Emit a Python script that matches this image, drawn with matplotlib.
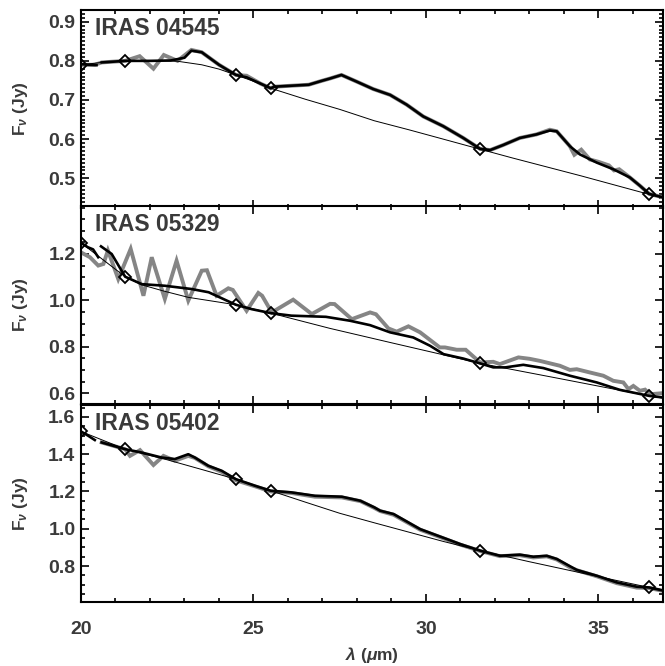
import matplotlib
matplotlib.use('Agg')
import matplotlib.pyplot as plt
from matplotlib.ticker import MultipleLocator, FormatStrFormatter

plt.rcParams['font.family'] = ['Liberation Sans', 'DejaVu Sans']
plt.rcParams['mathtext.fontset'] = 'custom'
plt.rcParams['mathtext.rm'] = 'Liberation Sans:bold'
plt.rcParams['mathtext.it'] = 'Liberation Sans:italic:bold'
plt.rcParams['mathtext.bf'] = 'Liberation Sans:bold'

# ---------------- IRAS 04545 ----------------
names = ['IRAS 04545', 'IRAS 05329', 'IRAS 05402']

p1_gray_lam = [20.0, 20.4, 20.6, 21.28, 21.7, 22.1, 22.4, 22.8, 23.2, 23.5, 24.0, 24.49, 24.8, 25.2, 25.5,
               25.6, 26.6, 26.98, 27.22, 27.55, 27.99, 28.47, 28.96, 29.44, 29.92, 30.5, 31.08, 31.57,
               31.86, 32.24, 32.72, 33.2, 33.59, 33.79, 34.17, 34.3, 34.5, 34.75, 35.0, 35.3, 35.45,
               35.6, 35.91, 36.2, 36.47, 36.88]
p1_gray_val = [0.790, 0.790, 0.796, 0.800, 0.812, 0.780, 0.815, 0.800, 0.828, 0.822, 0.790, 0.764, 0.762,
               0.742, 0.730, 0.734, 0.739, 0.749, 0.755, 0.764, 0.747, 0.728, 0.713, 0.688, 0.658, 0.633,
               0.603, 0.575, 0.572, 0.585, 0.603, 0.612, 0.624, 0.620, 0.582, 0.560, 0.573, 0.548, 0.542,
               0.533, 0.520, 0.523, 0.502, 0.481, 0.460, 0.451]

p1_dash_lam = [20.0, 20.2, 20.45]
p1_dash_val = [0.792, 0.790, 0.789]
p1_black_lam = [20.6, 21.28, 22.0, 22.6, 23.0, 23.2, 23.5, 24.0, 24.49, 24.8, 25.2, 25.5, 25.6, 26.6,
                26.98, 27.22, 27.55, 27.99, 28.47, 28.96, 29.44, 29.92, 30.5, 31.08, 31.57, 31.86, 32.24,
                32.72, 33.2, 33.59, 33.79, 34.17, 34.46, 34.95, 35.43, 35.91, 36.2, 36.47, 36.88]
p1_black_val = [0.796, 0.800, 0.800, 0.801, 0.808, 0.826, 0.822, 0.790, 0.764, 0.758, 0.742, 0.730, 0.734,
                0.739, 0.749, 0.755, 0.764, 0.747, 0.728, 0.713, 0.688, 0.658, 0.633, 0.603, 0.575, 0.572,
                0.585, 0.603, 0.612, 0.622, 0.620, 0.582, 0.561, 0.540, 0.523, 0.502, 0.481, 0.460, 0.451]

p1_cont_lam = [20.0, 20.6, 21.28, 22.0, 22.8, 23.5, 24.0, 24.49, 25.0, 25.5, 26.5, 27.5, 28.5, 29.5, 30.5,
               31.58, 32.5, 33.5, 34.5, 35.5, 36.46, 36.87]
p1_cont_val = [0.790, 0.796, 0.800, 0.801, 0.799, 0.790, 0.779, 0.764, 0.748, 0.730, 0.702, 0.676, 0.647,
               0.624, 0.600, 0.574, 0.552, 0.529, 0.506, 0.482, 0.459, 0.450]

p1_pts_lam = [20.0, 21.28, 24.49, 25.5, 31.58, 36.46]
p1_pts_val = [0.790, 0.800, 0.764, 0.730, 0.574, 0.459]

# ---------------- IRAS 05329 ----------------
p2_gray_lam = [20.0, 20.26, 20.5, 20.65, 20.78, 21.08, 21.44, 21.81, 22.05, 22.43, 22.77, 23.11, 23.5, 23.65,
               23.93, 24.27, 24.4, 24.8, 25.14, 25.25, 25.53, 26.15, 26.69, 27.22, 27.35, 27.85, 28.38,
               28.55, 28.91, 29.15, 29.49, 29.83, 30.4, 30.55, 30.89, 31.15, 31.57, 31.95, 32.14, 32.68,
               33.0, 33.3, 33.88, 34.17, 34.37, 34.75, 35.14, 35.43, 35.72, 35.87, 36.01, 36.2, 36.35,
               36.49, 36.88]
p2_gray_val = [1.207, 1.186, 1.150, 1.157, 1.215, 1.092, 1.222, 1.020, 1.186, 1.006, 1.171, 0.999, 1.128,
               1.130, 1.020, 1.052, 1.045, 0.955, 1.032, 1.020, 0.948, 1.003, 0.941, 0.985, 0.984, 0.919,
               0.948, 0.940, 0.879, 0.865, 0.888, 0.862, 0.797, 0.797, 0.787, 0.787, 0.732, 0.735, 0.725,
               0.754, 0.748, 0.739, 0.718, 0.700, 0.703, 0.689, 0.675, 0.653, 0.646, 0.617, 0.631, 0.610,
               0.615, 0.595, 0.600]

p2_dash_lam = [20.0, 20.2, 20.35, 20.5]
p2_dash_val = [1.248, 1.229, 1.220, 1.186]
p2_black_lam = [20.58, 20.89, 21.28, 21.76, 22.43, 23.2, 23.7, 24.08, 24.49, 24.95, 25.5, 26.1, 27.1, 27.8,
                28.38, 28.96, 29.63, 30.12, 30.51, 31.08, 31.57, 31.95, 32.3, 32.82, 33.4, 34.17, 34.95,
                35.62, 36.47, 36.88]
p2_black_val = [1.233, 1.200, 1.102, 1.070, 1.063, 1.049, 1.035, 1.009, 0.981, 0.962, 0.945, 0.934, 0.929,
                0.912, 0.893, 0.862, 0.840, 0.804, 0.768, 0.749, 0.728, 0.711, 0.711, 0.722, 0.708, 0.675,
                0.646, 0.614, 0.588, 0.581]

p2_cont_lam = [20.0, 21.28, 21.76, 22.4, 23.11, 24.49, 25.5, 27.22, 29.0, 31.58, 34.0, 36.46, 36.87]
p2_cont_val = [1.248, 1.102, 1.067, 1.040, 1.013, 0.981, 0.945, 0.879, 0.817, 0.728, 0.659, 0.588, 0.578]

p2_pts_lam = [20.0, 21.28, 24.49, 25.5, 31.58, 36.46]
p2_pts_val = [1.248, 1.102, 0.981, 0.945, 0.728, 0.588]

# ---------------- IRAS 05402 ----------------
p3_gray_lam = [20.6, 21.28, 21.42, 21.71, 22.1, 22.39, 22.72, 23.11, 23.3, 23.69, 24.08, 24.49, 25.04, 25.5,
               26.1, 26.78, 27.56, 28.1, 28.5, 28.67, 29.06, 29.83, 30.6, 30.99, 31.58, 32.14, 32.72,
               33.11, 33.5, 33.79, 34.2, 34.4, 34.95, 35.53, 36.11, 36.47, 36.88]
p3_gray_val = [1.463, 1.427, 1.391, 1.422, 1.342, 1.391, 1.365, 1.391, 1.380, 1.335, 1.305, 1.260, 1.228,
               1.200, 1.192, 1.172, 1.168, 1.148, 1.112, 1.095, 1.075, 0.995, 0.942, 0.915, 0.880, 0.853,
               0.858, 0.846, 0.852, 0.835, 0.790, 0.776, 0.745, 0.708, 0.684, 0.682, 0.666]

p3_dash_lam = [20.0, 20.2, 20.4]
p3_dash_val = [1.522, 1.500, 1.476]
p3_black_lam = [20.6, 21.28, 21.76, 22.34, 22.72, 23.11, 23.3, 23.69, 24.08, 24.49, 25.04, 25.5, 26.1, 26.78,
                27.56, 28.1, 28.5, 28.67, 29.06, 29.83, 30.6, 30.99, 31.58, 32.14, 32.72, 33.11, 33.5,
                33.79, 34.37, 34.95, 35.53, 36.11, 36.47, 36.88]
p3_black_val = [1.463, 1.427, 1.409, 1.382, 1.374, 1.400, 1.382, 1.338, 1.311, 1.266, 1.231, 1.204, 1.195,
                1.177, 1.172, 1.150, 1.115, 1.097, 1.079, 0.998, 0.945, 0.918, 0.882, 0.855, 0.861, 0.850,
                0.855, 0.838, 0.779, 0.748, 0.712, 0.689, 0.685, 0.668]

p3_cont_lam = [20.0, 21.28, 22.5, 23.5, 24.49, 25.5, 26.5, 27.5, 28.5, 29.5, 30.5, 31.58, 33.0, 34.5, 36.47,
               36.87]
p3_cont_val = [1.522, 1.427, 1.370, 1.318, 1.266, 1.204, 1.143, 1.083, 1.032, 0.982, 0.932, 0.882, 0.823,
               0.763, 0.685, 0.672]

p3_pts_lam = [20.0, 21.28, 24.49, 25.5, 31.58, 36.47]
p3_pts_val = [1.522, 1.427, 1.266, 1.204, 0.882, 0.685]

panels = [
    (p1_gray_lam, p1_gray_val, p1_dash_lam, p1_dash_val, p1_black_lam, p1_black_val,
     p1_cont_lam, p1_cont_val, p1_pts_lam, p1_pts_val),
    (p2_gray_lam, p2_gray_val, p2_dash_lam, p2_dash_val, p2_black_lam, p2_black_val,
     p2_cont_lam, p2_cont_val, p2_pts_lam, p2_pts_val),
    (p3_gray_lam, p3_gray_val, p3_dash_lam, p3_dash_val, p3_black_lam, p3_black_val,
     p3_cont_lam, p3_cont_val, p3_pts_lam, p3_pts_val),
]
ylims = [(0.424, 0.93), (0.553, 1.407), (0.607, 1.664)]
yticks = [[0.5, 0.6, 0.7, 0.8, 0.9], [0.6, 0.8, 1.0, 1.2], [0.8, 1.0, 1.2, 1.4, 1.6]]
yminor = [0.01, 0.05, 0.05]

W, H = 665, 666
fig = plt.figure(figsize=(W / 100, H / 100), dpi=100)
boxes = [(10, 208), (206, 404), (405, 602)]
left, right = 81, 663
text_col = '#3a3a3a'

for i, (box, data) in enumerate(zip(boxes, panels)):
    top, bot = box
    ax = fig.add_axes([left / W, 1 - bot / H, (right - left) / W, (bot - top) / H])
    glam, gval, dlam, dval, blam, bval, clam, cval, plam, pval = data
    ax.plot(glam, gval, color='#858585', lw=2.8, solid_joinstyle='miter', zorder=2)
    ax.plot(clam, cval, color='black', lw=0.7, zorder=3)
    ax.plot(dlam, dval, color='black', lw=1.9, zorder=4)
    ax.plot(blam, bval, color='black', lw=1.9, zorder=4)
    ax.plot(plam, pval, ls='none', marker='D', ms=6.5, mfc='none', mec='black', mew=1.3, zorder=5)

    ax.set_xlim(20, 36.87)
    ax.set_ylim(*ylims[i])
    ax.xaxis.set_major_locator(MultipleLocator(5))
    ax.xaxis.set_minor_locator(MultipleLocator(1))
    ax.set_yticks(yticks[i])
    ax.yaxis.set_minor_locator(MultipleLocator(yminor[i]))
    ax.yaxis.set_major_formatter(FormatStrFormatter('%.1f'))
    ax.tick_params(which='both', direction='in', top=True, right=True, width=1.2)
    ax.tick_params(which='major', length=6)
    ax.tick_params(which='minor', length=3)
    ax.tick_params(axis='y', labelsize=14, labelcolor=text_col, pad=4)
    ax.tick_params(axis='x', labelsize=14, labelcolor=text_col, pad=14)
    for lab in ax.get_yticklabels() + ax.get_xticklabels():
        lab.set_fontweight('bold')
    if i < 2:
        ax.tick_params(axis='x', labelbottom=False)
    for sp in ax.spines.values():
        sp.set_linewidth(1.5)

    ax.text(0.024, 0.965, names[i], transform=ax.transAxes, ha='left', va='top',
            fontsize=16.5, fontweight='bold', color=text_col)
    ax.set_ylabel(r'F$_\nu$ (Jy)', fontsize=12.5, fontweight='bold', color=text_col)
    ax.yaxis.set_label_coords(-0.088, 0.5)

fig.text(372 / W, 1 - 655 / H, r'$\lambda$ ($\mu$m)', ha='center', va='center',
         fontsize=12.5, fontweight='bold', color=text_col)

fig.savefig('out.png', dpi=100)
